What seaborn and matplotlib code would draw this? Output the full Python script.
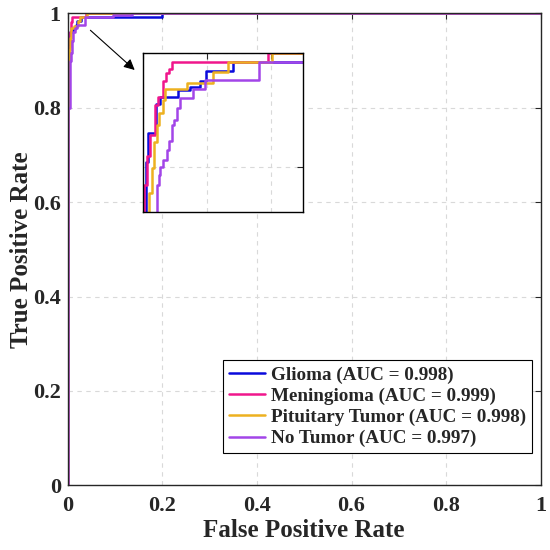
import numpy as np
import pandas as pd
import matplotlib
matplotlib.use("Agg")
import matplotlib.pyplot as plt
import seaborn as sns

# ROC step vertices (fpr, tpr)
glioma_fpr = [0, 0, 0.0010, 0.0017, 0.0041, 0.0054, 0.0111, 0.0148, 0.0180, 0.0197, 0.0280, 0.2000, 1.0]
glioma_tpr = [0, 0.85, 0.904, 0.930, 0.955, 0.961, 0.967, 0.970, 0.975, 0.984, 0.9915, 1.0, 1.0]

meningioma_fpr = [0, 0, 0.0004, 0.00125, 0.0023, 0.0038, 0.0049, 0.0063, 0.0073, 0.0083, 0.0091, 0.0390, 1.0]
meningioma_tpr = [0, 0.86, 0.884, 0.909, 0.928, 0.954, 0.961, 0.975, 0.982, 0.986, 0.9915, 1.0, 1.0]

pituitary_fpr = [0, 0, 0.0021, 0.0028, 0.0035, 0.0045, 0.0052, 0.0062, 0.0070, 0.0138, 0.0218, 0.0267, 0.0402, 1.0]
pituitary_tpr = [0, 0.80, 0.877, 0.899, 0.922, 0.937, 0.947, 0.9585, 0.968, 0.9735, 0.983, 0.9915, 1.0, 1.0]

no_tumor_fpr = [0, 0, 0.0044, 0.0046, 0.0050, 0.0055, 0.0062, 0.0075, 0.0082, 0.0090, 0.0098, 0.0106,
                0.0115, 0.0158, 0.0195, 0.0363, 0.0950, 0.1350, 1.0]
no_tumor_tpr = [0, 0.80, 0.869, 0.884, 0.893, 0.900, 0.906, 0.915, 0.923, 0.937, 0.941, 0.9515,
                0.960, 0.968, 0.976, 0.9915, 0.996, 1.0, 1.0]

classes = ["Glioma", "Meningioma", "Pituitary Tumor", "No Tumor"]
auc = [0.998, 0.999, 0.998, 0.997]
colors = ["#0a0adc", "#f0168c", "#edb120", "#a245e8"]

curves = [(glioma_fpr, glioma_tpr), (meningioma_fpr, meningioma_tpr),
          (pituitary_fpr, pituitary_tpr), (no_tumor_fpr, no_tumor_tpr)]
labels = [f"{c} (AUC = {a:.3f})" for c, a in zip(classes, auc)]

frames = []
for lab, (f, t) in zip(labels, curves):
    frames.append(pd.DataFrame({"fpr": f, "tpr": t, "cls": lab}))
df = pd.concat(frames, ignore_index=True)
palette = dict(zip(labels, colors))

sns.set_style("white")
plt.rcParams["font.family"] = ["Liberation Serif", "DejaVu Serif"]
plt.rcParams["font.weight"] = "bold"

grid_kw = dict(color="#d9d9d9", linestyle=(0, (4, 4)), linewidth=0.8)
spine_col = "#262626"


def style_axes(ax):
    for s in ax.spines.values():
        s.set_visible(True)
        s.set_color(spine_col)
        s.set_linewidth(1.0)
    ax.tick_params(direction="in", length=4, width=0.8, color=spine_col,
                   top=True, right=True)
    ax.grid(True, **grid_kw)
    ax.set_axisbelow(True)


fig = plt.figure(figsize=(5.5, 5.5), dpi=100)
ax = fig.add_axes([0.1231, 0.1176, 0.8600, 0.8582])

sns.lineplot(data=df, x="fpr", y="tpr", hue="cls", hue_order=labels, palette=palette,
             estimator=None, sort=False, drawstyle="steps-post", linewidth=1.8, ax=ax)

ticks = [0, 0.2, 0.4, 0.6, 0.8, 1.0]
tick_labels = ["0", "0.2", "0.4", "0.6", "0.8", "1"]
ax.set_xlim(0, 1)
ax.set_ylim(0, 1)
ax.set_xticks(ticks)
ax.set_yticks(ticks)
ax.set_xticklabels(tick_labels, fontsize=16, fontweight="bold")
ax.set_yticklabels(tick_labels, fontsize=16, fontweight="bold")
style_axes(ax)
ax.tick_params(axis="x", pad=8)
ax.tick_params(axis="y", pad=5)
ax.set_xlabel("False Positive Rate", fontsize=18, fontweight="bold", labelpad=2)
ax.set_ylabel("True Positive Rate", fontsize=18, fontweight="bold", labelpad=0)

leg = ax.legend(loc="lower right", bbox_to_anchor=(0.981, 0.068), fontsize=13.8,
                frameon=True, fancybox=False, framealpha=1, edgecolor="black",
                handlelength=1.9, handletextpad=0.3, labelspacing=0.2, borderpad=0.3,
                borderaxespad=0)
leg.get_frame().set_linewidth(0.8)
for txt in leg.get_texts():
    txt.set_fontweight("bold")

ax.annotate("", xy=(0.146, 0.876), xytext=(0.0436, 0.968),
            arrowprops=dict(arrowstyle="-|>", color="black", lw=0.8, mutation_scale=16))

# zoomed inset
axins = fig.add_axes([0.2595, 0.614, 0.2915, 0.290])
sns.lineplot(data=df, x="fpr", y="tpr", hue="cls", hue_order=labels, palette=palette,
             estimator=None, sort=False, drawstyle="steps-post", linewidth=1.8,
             legend=False, ax=axins)
axins.set_xlim(0, 0.05)
axins.set_ylim(0.86, 1.0)
axins.set_xticks([0, 0.02, 0.04])
axins.set_yticks([0.9, 1.0])
axins.set_xticklabels([])
axins.set_yticklabels([])
axins.set_xlabel("")
axins.set_ylabel("")
style_axes(axins)
for s in axins.spines.values():
    s.set_color("black")

fig.savefig("out.png", dpi=100)
